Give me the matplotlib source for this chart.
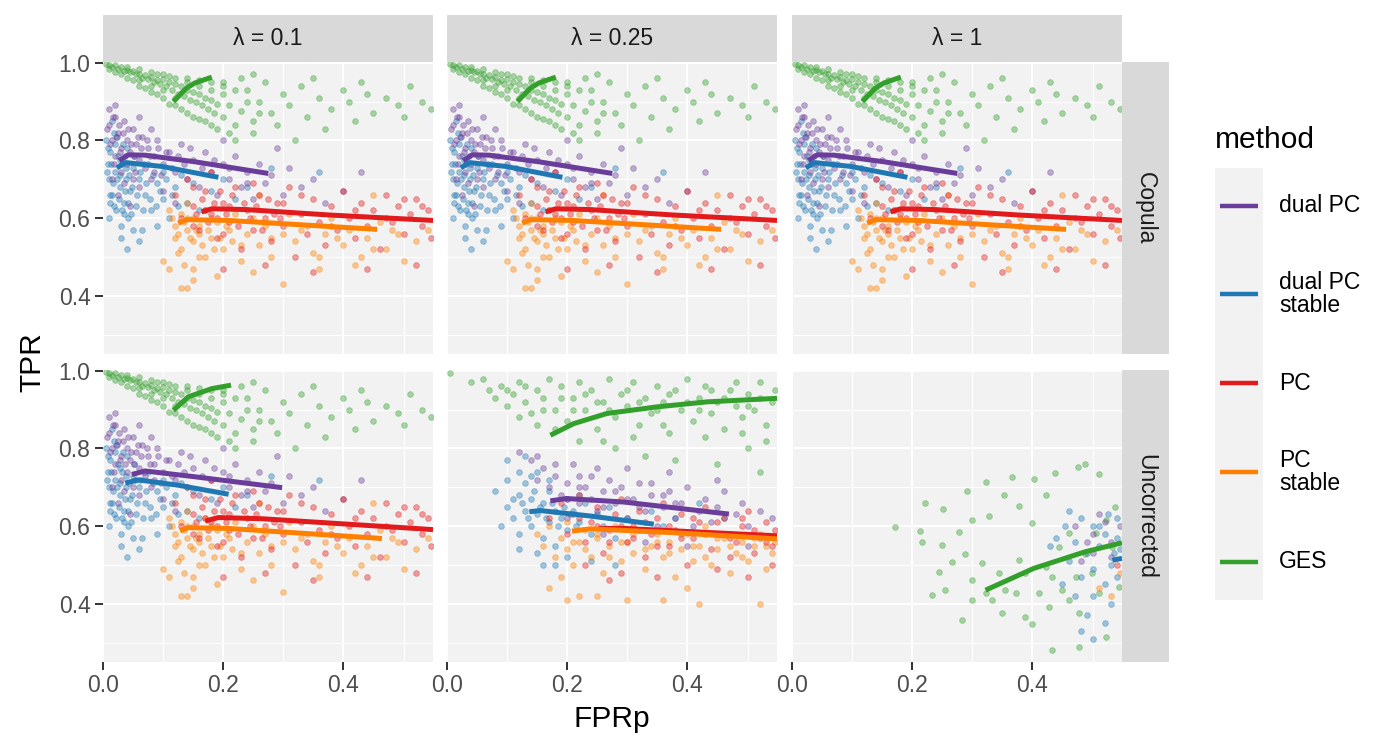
import numpy as np
import matplotlib.pyplot as plt

plt.rcParams['font.family'] = ['Liberation Sans', 'DejaVu Sans']

W, H = 1400, 750

methods = ['dual PC', 'dual PC\nstable', 'PC', 'PC\nstable', 'GES']
colors = ['#6A3D9A', '#1F78B4', '#E31A1C', '#FF7F00', '#33A02C']
col_labels = ['λ = 0.1', 'λ = 0.25', 'λ = 1']
row_labels = ['Copula', 'Uncorrected']
x_ticks = [0.0, 0.2, 0.4]
y_ticks = [0.4, 0.6, 0.8, 1.0]

# ---- point clouds (FPRp, TPR) ----
cop_dual = [(0.01, 0.84), (0.015, 0.80), (0.02, 0.86), (0.02, 0.76), (0.025, 0.82), (0.03, 0.78),
            (0.03, 0.72), (0.035, 0.85), (0.04, 0.80), (0.04, 0.74), (0.045, 0.77), (0.05, 0.83),
            (0.05, 0.70), (0.055, 0.79), (0.06, 0.75), (0.06, 0.68), (0.065, 0.81), (0.07, 0.73),
            (0.075, 0.78), (0.08, 0.70), (0.085, 0.76), (0.09, 0.80), (0.1, 0.74), (0.1, 0.67),
            (0.11, 0.77), (0.12, 0.72), (0.13, 0.79), (0.14, 0.70), (0.15, 0.75), (0.16, 0.68),
            (0.17, 0.77), (0.18, 0.72), (0.19, 0.66), (0.2, 0.74), (0.21, 0.70), (0.22, 0.76),
            (0.23, 0.68), (0.24, 0.72), (0.25, 0.65), (0.26, 0.74), (0.27, 0.69), (0.28, 0.71),
            (0.3, 0.66), (0.31, 0.73), (0.33, 0.68), (0.35, 0.70), (0.37, 0.64), (0.4, 0.67),
            (0.43, 0.72), (0.015, 0.70), (0.025, 0.66), (0.045, 0.63), (0.12, 0.64), (0.2, 0.80),
            (0.29, 0.78), (0.01, 0.88), (0.02, 0.89), (0.035, 0.69), (0.06, 0.86), (0.08, 0.83),
            (0.007, 0.83), (0.012, 0.79), (0.016, 0.86), (0.018, 0.74), (0.023, 0.81), (0.027, 0.84),
            (0.029, 0.77), (0.033, 0.82), (0.037, 0.76), (0.042, 0.83), (0.046, 0.79), (0.051, 0.76),
            (0.054, 0.72), (0.058, 0.81), (0.063, 0.78), (0.068, 0.74), (0.073, 0.80), (0.079, 0.76),
            (0.085, 0.72), (0.092, 0.78), (0.097, 0.71), (0.105, 0.77), (0.115, 0.73), (0.125, 0.76),
            (0.135, 0.74), (0.145, 0.78), (0.165, 0.73), (0.185, 0.75), (0.21, 0.73), (0.24, 0.69)]
cop_dual_st = [(0.005, 0.80), (0.008, 0.74), (0.01, 0.70), (0.012, 0.77), (0.015, 0.66), (0.018, 0.82),
               (0.02, 0.72), (0.022, 0.62), (0.025, 0.76), (0.028, 0.68), (0.03, 0.58), (0.032, 0.74),
               (0.035, 0.64), (0.038, 0.70), (0.04, 0.78), (0.042, 0.60), (0.045, 0.67), (0.05, 0.73),
               (0.055, 0.63), (0.06, 0.70), (0.065, 0.57), (0.07, 0.66), (0.075, 0.74), (0.08, 0.62),
               (0.09, 0.69), (0.1, 0.65), (0.1, 0.72), (0.11, 0.60), (0.12, 0.68), (0.13, 0.71),
               (0.14, 0.64), (0.15, 0.69), (0.16, 0.62), (0.18, 0.67), (0.2, 0.70), (0.22, 0.65),
               (0.24, 0.68), (0.03, 0.55), (0.06, 0.54), (0.05, 0.57), (0.015, 0.85), (0.01, 0.60),
               (0.28, 0.73), (0.36, 0.72), (0.09, 0.58), (0.04, 0.52), (0.012, 0.64), (0.02, 0.79),
               (0.028, 0.71), (0.035, 0.61),
               (0.006, 0.72), (0.009, 0.78), (0.011, 0.66), (0.014, 0.74), (0.017, 0.69), (0.019, 0.63),
               (0.021, 0.81), (0.024, 0.70), (0.026, 0.65), (0.029, 0.75), (0.031, 0.62), (0.033, 0.79),
               (0.036, 0.67), (0.039, 0.73), (0.041, 0.64), (0.044, 0.71), (0.047, 0.61), (0.049, 0.68),
               (0.052, 0.76), (0.057, 0.66), (0.062, 0.72), (0.067, 0.62), (0.072, 0.69), (0.078, 0.65),
               (0.083, 0.71), (0.088, 0.63), (0.095, 0.67), (0.105, 0.70), (0.115, 0.66), (0.125, 0.63)]
cop_pc = [(0.12, 0.66), (0.13, 0.60), (0.14, 0.70), (0.15, 0.63), (0.16, 0.57), (0.17, 0.67),
          (0.18, 0.61), (0.18, 0.72), (0.19, 0.55), (0.2, 0.64), (0.21, 0.59), (0.22, 0.68),
          (0.23, 0.52), (0.24, 0.62), (0.25, 0.57), (0.26, 0.66), (0.27, 0.60), (0.28, 0.54),
          (0.29, 0.64), (0.3, 0.58), (0.31, 0.68), (0.32, 0.50), (0.33, 0.61), (0.34, 0.56),
          (0.35, 0.65), (0.36, 0.59), (0.37, 0.53), (0.38, 0.63), (0.39, 0.57), (0.4, 0.67),
          (0.41, 0.60), (0.42, 0.55), (0.43, 0.64), (0.44, 0.58), (0.45, 0.62), (0.46, 0.52),
          (0.47, 0.66), (0.48, 0.59), (0.49, 0.63), (0.5, 0.56), (0.51, 0.61), (0.52, 0.65),
          (0.53, 0.58), (0.54, 0.62), (0.545, 0.55), (0.2, 0.47), (0.27, 0.48), (0.35, 0.46),
          (0.52, 0.48), (0.44, 0.47), (0.15, 0.68), (0.17, 0.62), (0.19, 0.60), (0.21, 0.63),
          (0.155, 0.61), (0.165, 0.65), (0.175, 0.59), (0.185, 0.64), (0.195, 0.67), (0.205, 0.61),
          (0.215, 0.66), (0.225, 0.58), (0.235, 0.64), (0.245, 0.60), (0.255, 0.63), (0.265, 0.57),
          (0.275, 0.65), (0.285, 0.61), (0.295, 0.60), (0.15, 0.58), (0.2, 0.56), (0.25, 0.69),
          (0.3, 0.64), (0.33, 0.66), (0.38, 0.58), (0.42, 0.62), (0.47, 0.60), (0.5, 0.65),
          (0.53, 0.63)]
cop_pc_st = [(0.11, 0.62), (0.12, 0.58), (0.12, 0.55), (0.13, 0.61), (0.13, 0.52), (0.14, 0.57),
             (0.14, 0.64), (0.15, 0.54), (0.15, 0.60), (0.16, 0.50), (0.16, 0.58), (0.17, 0.62),
             (0.18, 0.55), (0.19, 0.59), (0.2, 0.52), (0.21, 0.57), (0.22, 0.61), (0.23, 0.49),
             (0.24, 0.56), (0.25, 0.60), (0.26, 0.53), (0.27, 0.58), (0.28, 0.50), (0.3, 0.56),
             (0.31, 0.61), (0.32, 0.54), (0.34, 0.58), (0.35, 0.51), (0.37, 0.56), (0.38, 0.60),
             (0.4, 0.53), (0.41, 0.57), (0.43, 0.50), (0.44, 0.55), (0.46, 0.59), (0.47, 0.52),
             (0.49, 0.56), (0.5, 0.49), (0.52, 0.54), (0.54, 0.57), (0.1, 0.49), (0.11, 0.47),
             (0.13, 0.42), (0.14, 0.42), (0.15, 0.44), (0.19, 0.45), (0.25, 0.46), (0.3, 0.43),
             (0.36, 0.47), (0.42, 0.48), (0.26, 0.66), (0.45, 0.66), (0.14, 0.60), (0.16, 0.56),
             (0.18, 0.60),
             (0.115, 0.60), (0.125, 0.56), (0.135, 0.59), (0.145, 0.55), (0.155, 0.57), (0.165, 0.53),
             (0.175, 0.57), (0.185, 0.52), (0.195, 0.55), (0.205, 0.58), (0.215, 0.54), (0.125, 0.51),
             (0.135, 0.48), (0.15, 0.47), (0.17, 0.50), (0.23, 0.53), (0.28, 0.55), (0.33, 0.57),
             (0.39, 0.55), (0.45, 0.52), (0.48, 0.57), (0.36, 0.50)]
cop_ges = [(0.005, 0.998), (0.01, 0.995), (0.015, 0.99), (0.02, 0.993), (0.025, 0.985), (0.03, 0.988),
           (0.035, 0.98), (0.04, 0.982), (0.045, 0.975), (0.05, 0.978), (0.055, 0.97), (0.06, 0.972),
           (0.065, 0.962), (0.07, 0.968), (0.075, 0.958), (0.08, 0.963), (0.085, 0.95), (0.09, 0.955),
           (0.095, 0.945), (0.1, 0.958), (0.105, 0.94), (0.11, 0.95), (0.115, 0.93), (0.12, 0.945),
           (0.125, 0.92), (0.13, 0.94), (0.135, 0.915), (0.14, 0.93), (0.145, 0.905), (0.15, 0.925),
           (0.155, 0.90), (0.16, 0.92), (0.165, 0.89), (0.17, 0.91), (0.175, 0.88), (0.18, 0.905),
           (0.185, 0.87), (0.19, 0.895), (0.2, 0.86), (0.21, 0.89), (0.22, 0.84), (0.23, 0.875),
           (0.06, 0.955), (0.08, 0.94), (0.1, 0.93), (0.12, 0.91), (0.14, 0.95), (0.16, 0.94),
           (0.18, 0.93), (0.2, 0.92), (0.09, 0.97), (0.11, 0.965), (0.24, 0.93), (0.26, 0.90),
           (0.27, 0.95), (0.28, 0.87), (0.3, 0.92), (0.31, 0.89), (0.33, 0.94), (0.34, 0.86),
           (0.36, 0.91), (0.38, 0.88), (0.4, 0.93), (0.41, 0.90), (0.43, 0.95), (0.45, 0.87),
           (0.47, 0.91), (0.49, 0.89), (0.51, 0.94), (0.53, 0.90), (0.545, 0.88), (0.25, 0.82),
           (0.29, 0.84), (0.32, 0.80), (0.37, 0.83), (0.22, 0.80), (0.42, 0.85), (0.5, 0.86),
           (0.35, 0.96), (0.25, 0.97), (0.44, 0.92), (0.2, 0.95),
           (0.01, 0.985), (0.02, 0.975), (0.03, 0.97), (0.04, 0.96), (0.05, 0.955), (0.06, 0.94),
           (0.07, 0.935), (0.08, 0.925), (0.09, 0.92), (0.1, 0.91), (0.11, 0.895), (0.12, 0.89),
           (0.13, 0.88), (0.14, 0.87), (0.15, 0.86), (0.16, 0.855), (0.17, 0.85), (0.18, 0.84),
           (0.19, 0.83), (0.21, 0.82), (0.04, 0.99), (0.06, 0.985), (0.08, 0.975), (0.1, 0.97),
           (0.12, 0.96), (0.14, 0.96), (0.16, 0.955), (0.18, 0.95), (0.2, 0.94), (0.22, 0.93),
           (0.24, 0.90), (0.26, 0.87), (0.23, 0.96), (0.25, 0.85)]

u025_dual = [(0.12, 0.79), (0.14, 0.77), (0.15, 0.72), (0.16, 0.75), (0.17, 0.70), (0.18, 0.73),
             (0.19, 0.68), (0.2, 0.71), (0.21, 0.76), (0.22, 0.66), (0.23, 0.70), (0.24, 0.73),
             (0.25, 0.64), (0.26, 0.69), (0.27, 0.72), (0.28, 0.66), (0.29, 0.70), (0.3, 0.62),
             (0.31, 0.67), (0.32, 0.71), (0.33, 0.64), (0.34, 0.68), (0.35, 0.60), (0.36, 0.65),
             (0.37, 0.69), (0.38, 0.62), (0.39, 0.66), (0.4, 0.70), (0.41, 0.60), (0.42, 0.64),
             (0.43, 0.67), (0.44, 0.61), (0.45, 0.65), (0.46, 0.69), (0.47, 0.58), (0.48, 0.63),
             (0.49, 0.66), (0.5, 0.60), (0.52, 0.64), (0.54, 0.62), (0.3, 0.75), (0.37, 0.74),
             (0.45, 0.72), (0.2, 0.62), (0.26, 0.58), (0.33, 0.56), (0.4, 0.55), (0.5, 0.55),
             (0.2, 0.67), (0.22, 0.70), (0.24, 0.67), (0.26, 0.65), (0.28, 0.69), (0.3, 0.67),
             (0.32, 0.65), (0.34, 0.71), (0.36, 0.68), (0.38, 0.66), (0.25, 0.75), (0.22, 0.73),
             (0.18, 0.76), (0.15, 0.78)]
u025_dual_st = [(0.08, 0.69), (0.09, 0.60), (0.1, 0.65), (0.1, 0.72), (0.11, 0.62), (0.12, 0.68),
                (0.12, 0.58), (0.13, 0.64), (0.13, 0.71), (0.14, 0.60), (0.14, 0.67), (0.15, 0.63),
                (0.15, 0.74), (0.16, 0.57), (0.16, 0.66), (0.17, 0.61), (0.17, 0.69), (0.18, 0.64),
                (0.18, 0.55), (0.19, 0.62), (0.2, 0.67), (0.2, 0.59), (0.21, 0.64), (0.22, 0.61),
                (0.23, 0.66), (0.24, 0.58), (0.25, 0.63), (0.26, 0.60), (0.27, 0.65), (0.28, 0.57),
                (0.3, 0.62), (0.32, 0.59), (0.34, 0.64), (0.36, 0.60), (0.38, 0.62), (0.42, 0.66),
                (0.1, 0.77), (0.13, 0.78), (0.16, 0.50), (0.18, 0.50), (0.15, 0.53), (0.2, 0.52),
                (0.24, 0.51), (0.28, 0.50), (0.46, 0.62), (0.12, 0.54),
                (0.125, 0.66), (0.135, 0.62), (0.145, 0.69), (0.155, 0.65), (0.165, 0.62), (0.175, 0.66),
                (0.185, 0.60), (0.195, 0.65), (0.205, 0.63), (0.215, 0.60), (0.11, 0.67), (0.14, 0.73),
                (0.17, 0.72), (0.12, 0.74), (0.22, 0.68)]
u025_pc = [(0.17, 0.62), (0.19, 0.66), (0.2, 0.58), (0.21, 0.63), (0.22, 0.68), (0.23, 0.56),
           (0.24, 0.61), (0.25, 0.65), (0.26, 0.53), (0.27, 0.59), (0.28, 0.63), (0.29, 0.67),
           (0.3, 0.56), (0.31, 0.60), (0.32, 0.64), (0.33, 0.52), (0.34, 0.58), (0.35, 0.62),
           (0.36, 0.66), (0.37, 0.55), (0.38, 0.59), (0.39, 0.63), (0.4, 0.50), (0.41, 0.57),
           (0.42, 0.61), (0.43, 0.65), (0.44, 0.54), (0.45, 0.58), (0.46, 0.62), (0.47, 0.52),
           (0.48, 0.56), (0.49, 0.60), (0.5, 0.64), (0.51, 0.53), (0.52, 0.57), (0.53, 0.61),
           (0.54, 0.55), (0.545, 0.59), (0.29, 0.48), (0.35, 0.47), (0.23, 0.50), (0.45, 0.49),
           (0.5, 0.47), (0.54, 0.50), (0.27, 0.46),
           (0.27, 0.56), (0.29, 0.60), (0.31, 0.57), (0.33, 0.61), (0.35, 0.55), (0.37, 0.60),
           (0.39, 0.57), (0.41, 0.62), (0.43, 0.58), (0.45, 0.61), (0.47, 0.57), (0.49, 0.62),
           (0.51, 0.59), (0.53, 0.56), (0.25, 0.60), (0.22, 0.62)]
u025_pc_st = [(0.15, 0.58), (0.16, 0.55), (0.17, 0.60), (0.18, 0.52), (0.19, 0.57), (0.2, 0.54),
              (0.2, 0.61), (0.21, 0.50), (0.22, 0.56), (0.23, 0.59), (0.24, 0.52), (0.25, 0.57),
              (0.26, 0.48), (0.27, 0.55), (0.28, 0.60), (0.29, 0.51), (0.3, 0.56), (0.31, 0.53),
              (0.32, 0.59), (0.33, 0.49), (0.34, 0.55), (0.35, 0.58), (0.36, 0.52), (0.37, 0.56),
              (0.38, 0.47), (0.39, 0.54), (0.4, 0.58), (0.41, 0.51), (0.42, 0.55), (0.43, 0.60),
              (0.44, 0.50), (0.45, 0.54), (0.46, 0.57), (0.47, 0.48), (0.48, 0.53), (0.49, 0.56),
              (0.5, 0.51), (0.51, 0.55), (0.52, 0.58), (0.53, 0.49), (0.54, 0.53), (0.545, 0.56),
              (0.17, 0.44), (0.2, 0.41), (0.22, 0.42), (0.25, 0.42), (0.3, 0.41), (0.36, 0.41),
              (0.42, 0.40), (0.52, 0.40), (0.19, 0.47), (0.4, 0.44),
              (0.21, 0.56), (0.23, 0.54), (0.25, 0.58), (0.27, 0.52), (0.29, 0.56), (0.31, 0.58),
              (0.33, 0.54), (0.35, 0.56), (0.37, 0.53), (0.39, 0.58), (0.41, 0.55), (0.43, 0.52),
              (0.45, 0.57), (0.47, 0.55), (0.49, 0.52), (0.51, 0.57), (0.53, 0.55)]
u025_ges = [(0.005, 0.995), (0.04, 0.97), (0.06, 0.98), (0.07, 0.95), (0.08, 0.93), (0.09, 0.96),
            (0.1, 0.91), (0.11, 0.94), (0.12, 0.97), (0.13, 0.92), (0.14, 0.89), (0.15, 0.95),
            (0.16, 0.93), (0.17, 0.98), (0.18, 0.90), (0.19, 0.96), (0.2, 0.87), (0.21, 0.93),
            (0.22, 0.97), (0.23, 0.90), (0.24, 0.95), (0.25, 0.85), (0.26, 0.92), (0.27, 0.98),
            (0.28, 0.88), (0.29, 0.94), (0.3, 0.91), (0.31, 0.97), (0.32, 0.86), (0.33, 0.93),
            (0.34, 0.89), (0.35, 0.96), (0.36, 0.92), (0.37, 0.84), (0.38, 0.95), (0.39, 0.90),
            (0.4, 0.98), (0.41, 0.87), (0.42, 0.93), (0.43, 0.96), (0.44, 0.89), (0.45, 0.92),
            (0.46, 0.85), (0.47, 0.95), (0.48, 0.91), (0.49, 0.88), (0.5, 0.94), (0.51, 0.90),
            (0.52, 0.97), (0.53, 0.86), (0.54, 0.92), (0.22, 0.82), (0.28, 0.80), (0.33, 0.78),
            (0.38, 0.77), (0.45, 0.76), (0.5, 0.80), (0.52, 0.74), (0.15, 0.86), (0.12, 0.88),
            (0.1, 0.95), (0.13, 0.96), (0.16, 0.90), (0.19, 0.93), (0.21, 0.90), (0.23, 0.94),
            (0.25, 0.92), (0.27, 0.90), (0.3, 0.95), (0.32, 0.92), (0.35, 0.90), (0.37, 0.94),
            (0.4, 0.92), (0.42, 0.90), (0.44, 0.95), (0.46, 0.93), (0.48, 0.97), (0.5, 0.91),
            (0.52, 0.93), (0.545, 0.95), (0.18, 0.85), (0.26, 0.82), (0.31, 0.83), (0.36, 0.86),
            (0.43, 0.83), (0.49, 0.84), (0.53, 0.82)]

u1_dual = [(0.47, 0.60), (0.5, 0.58), (0.52, 0.61), (0.49, 0.56), (0.53, 0.56), (0.51, 0.63),
           (0.545, 0.60), (0.48, 0.51), (0.53, 0.52), (0.5, 0.53)]
u1_dual_st = [(0.46, 0.64), (0.48, 0.62), (0.5, 0.60), (0.52, 0.58), (0.54, 0.62), (0.47, 0.56),
              (0.49, 0.53), (0.51, 0.55), (0.53, 0.50), (0.545, 0.54), (0.44, 0.57), (0.46, 0.51),
              (0.48, 0.47), (0.5, 0.49), (0.52, 0.45), (0.54, 0.47), (0.45, 0.45), (0.47, 0.42),
              (0.5, 0.42), (0.53, 0.40), (0.49, 0.37), (0.52, 0.35), (0.48, 0.33), (0.5, 0.31),
              (0.43, 0.55), (0.54, 0.57), (0.51, 0.60), (0.535, 0.53), (0.455, 0.60), (0.525, 0.63)]
u1_pc = [(0.54, 0.50)]
u1_pc_st = [(0.53, 0.42), (0.51, 0.44), (0.545, 0.48)]
u1_ges = [(0.172, 0.598), (0.213, 0.588), (0.222, 0.659), (0.252, 0.645), (0.291, 0.69), (0.322, 0.713),
          (0.366, 0.727), (0.402, 0.722), (0.438, 0.737), (0.476, 0.752), (0.488, 0.761), (0.51, 0.733),
          (0.216, 0.56), (0.249, 0.552), (0.277, 0.586), (0.299, 0.616), (0.327, 0.625), (0.352, 0.681),
          (0.377, 0.651), (0.399, 0.609), (0.422, 0.679), (0.233, 0.422), (0.244, 0.482), (0.266, 0.508),
          (0.283, 0.358), (0.299, 0.461), (0.316, 0.504), (0.333, 0.409), (0.349, 0.375), (0.372, 0.427),
          (0.388, 0.366), (0.4, 0.349), (0.411, 0.427), (0.433, 0.469), (0.461, 0.409), (0.433, 0.281),
          (0.477, 0.289), (0.522, 0.315), (0.488, 0.529), (0.505, 0.581), (0.522, 0.615), (0.538, 0.649),
          (0.461, 0.581), (0.444, 0.546), (0.422, 0.495), (0.377, 0.512), (0.344, 0.478), (0.322, 0.427),
          (0.299, 0.409), (0.255, 0.435), (0.288, 0.529), (0.477, 0.375), (0.51, 0.427), (0.544, 0.443),
          (0.499, 0.478), (0.533, 0.546), (0.472, 0.469), (0.449, 0.435), (0.427, 0.392), (0.388, 0.478),
          (0.355, 0.435)]

# ---- summary curves per method ----
cop_lines = [
    [(0.027, 0.748), (0.042, 0.763), (0.07, 0.762), (0.153, 0.745), (0.275, 0.715)],
    [(0.023, 0.729), (0.037, 0.743), (0.098, 0.733), (0.192, 0.705)],
    [(0.164, 0.616), (0.181, 0.624), (0.237, 0.622), (0.376, 0.608), (0.549, 0.594)],
    [(0.125, 0.587), (0.139, 0.596), (0.209, 0.594), (0.456, 0.571)],
    [(0.117, 0.90), (0.139, 0.935), (0.153, 0.948), (0.181, 0.963)],
]
u01_lines = [
    [(0.048, 0.733), (0.07, 0.742), (0.153, 0.727), (0.298, 0.699)],
    [(0.037, 0.711), (0.059, 0.719), (0.126, 0.705), (0.209, 0.682)],
    [(0.17, 0.613), (0.192, 0.622), (0.264, 0.619), (0.549, 0.591)],
    [(0.128, 0.588), (0.142, 0.596), (0.209, 0.594), (0.464, 0.568)],
    [(0.117, 0.898), (0.142, 0.933), (0.181, 0.954), (0.213, 0.963)],
]
u025_lines = [
    [(0.172, 0.665), (0.199, 0.671), (0.294, 0.662), (0.469, 0.631)],
    [(0.137, 0.637), (0.155, 0.640), (0.238, 0.626), (0.344, 0.605)],
    [(0.252, 0.594), (0.294, 0.594), (0.549, 0.575)],
    [(0.208, 0.587), (0.238, 0.593), (0.377, 0.583), (0.549, 0.567)],
    [(0.172, 0.834), (0.211, 0.864), (0.266, 0.89), (0.349, 0.907), (0.433, 0.92), (0.549, 0.929)],
]
u1_lines = [
    [],
    [(0.533, 0.512), (0.549, 0.517)],
    [],
    [],
    [(0.322, 0.435), (0.402, 0.491), (0.488, 0.534), (0.549, 0.557)],
]

cop_pts = [cop_dual, cop_dual_st, cop_pc, cop_pc_st, cop_ges]
panels = {
    (0, 0): (cop_pts, cop_lines),
    (0, 1): (cop_pts, cop_lines),
    (0, 2): (cop_pts, cop_lines),
    (1, 0): (cop_pts, u01_lines),
    (1, 1): ([u025_dual, u025_dual_st, u025_pc, u025_pc_st, u025_ges], u025_lines),
    (1, 2): ([u1_dual, u1_dual_st, u1_pc, u1_pc_st, u1_ges], u1_lines),
}


def box(l, t, w, h):
    # pixel box (left, top, width, height) -> figure fraction
    return [l / W, 1 - (t + h) / H, w / W, h / H]


fig = plt.figure(figsize=(14, 7.5), dpi=100)

col_left = [103, 447, 792]
row_top = [62, 370]
panel_w, panel_h = 330, 292

for r in range(2):
    for c in range(3):
        ax = fig.add_axes(box(col_left[c], row_top[r], panel_w, panel_h))
        ax.set_facecolor('#F2F2F2')
        pts, lines = panels[(r, c)]
        for i in [4, 1, 0, 3, 2]:
            if pts[i]:
                xy = np.array(pts[i])
                ax.scatter(xy[:, 0], xy[:, 1], s=17, color=colors[i], alpha=0.4,
                           edgecolors=colors[i], linewidths=0.6, zorder=2)
        for i in range(5):
            if lines[i]:
                xy = np.array(lines[i])
                ax.plot(xy[:, 0], xy[:, 1], color=colors[i], lw=3.6,
                        solid_capstyle='butt', zorder=3)
        ax.set_xlim(0, 0.549)
        ax.set_ylim(0.25, 1.002)
        ax.set_xticks(x_ticks)
        ax.set_xticks([0.1, 0.3, 0.5], minor=True)
        ax.set_yticks(y_ticks)
        ax.set_yticks([0.3, 0.5, 0.7, 0.9], minor=True)
        ax.set_xticklabels([f'{v:.1f}' for v in x_ticks])
        ax.set_yticklabels([f'{v:.1f}' for v in y_ticks])
        ax.grid(which='major', color='white', lw=1.4)
        ax.grid(which='minor', color='white', lw=0.8)
        ax.set_axisbelow(True)
        for s in ax.spines.values():
            s.set_visible(False)
        ax.tick_params(which='minor', length=0)
        ax.tick_params(which='major', length=6, width=1.4, color='#333333',
                       labelsize=16.5, labelcolor='#4D4D4D', pad=3)
        if c > 0:
            ax.tick_params(left=False, labelleft=False)
        if r == 0:
            ax.tick_params(bottom=False, labelbottom=False)

# facet strips
for c in range(3):
    sax = fig.add_axes(box(col_left[c], 15, panel_w, 47))
    sax.set_facecolor('#D9D9D9')
    sax.set_xticks([])
    sax.set_yticks([])
    for s in sax.spines.values():
        s.set_visible(False)
    sax.text(0.5, 0.5, col_labels[c], ha='center', va='center', fontsize=16.5,
             color='#1A1A1A', transform=sax.transAxes)
for r in range(2):
    sax = fig.add_axes(box(1122, row_top[r], 47, panel_h))
    sax.set_facecolor('#D9D9D9')
    sax.set_xticks([])
    sax.set_yticks([])
    for s in sax.spines.values():
        s.set_visible(False)
    sax.text(0.5, 0.5, row_labels[r], ha='center', va='center', fontsize=16.5,
             color='#1A1A1A', rotation=-90, transform=sax.transAxes)

# axis titles
fig.text(32 / W, 1 - 362 / H, 'TPR', rotation=90, ha='center', va='center', fontsize=21.5)
fig.text(612 / W, 1 - 719 / H, 'FPRp', ha='center', va='center', fontsize=21.5)

# legend
fig.text(1215 / W, 1 - 140 / H, 'method', ha='left', va='center', fontsize=21.5)
lax = fig.add_axes(box(1215, 168, 48, 432))
lax.set_facecolor('#F2F2F2')
lax.set_xlim(0, 48)
lax.set_ylim(432, 0)
lax.set_xticks([])
lax.set_yticks([])
for s in lax.spines.values():
    s.set_visible(False)
key_y = [206, 294, 383, 472, 562]
for i in range(5):
    lax.plot([5, 43], [key_y[i] - 168, key_y[i] - 168], color=colors[i], lw=3.2,
             solid_capstyle='butt')
    fig.text(1279 / W, 1 - key_y[i] / H, methods[i], ha='left', va='center',
             fontsize=16.5, linespacing=0.95)

fig.savefig('out.png', dpi=100)
